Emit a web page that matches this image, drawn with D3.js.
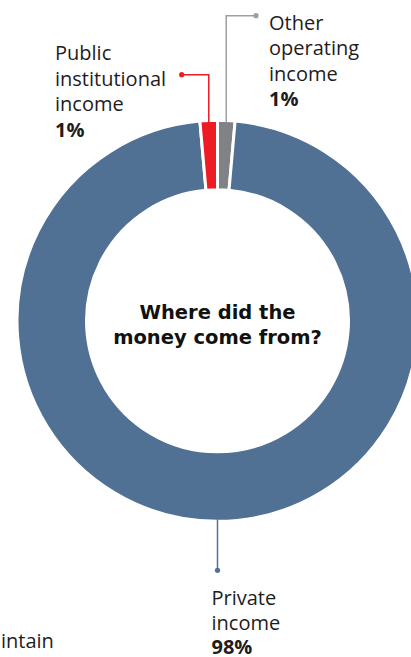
<!DOCTYPE html>
<html>
<head>
<meta charset="utf-8">
<script src="https://cdn.jsdelivr.net/npm/d3@7"></script>
<style>
  body { margin: 0; background: #fff; }
  svg { display: block; }
  .lbl { font-family: "Open Sans", sans-serif; font-size: 20px; fill: #1f1c1d; }
  .pct { font-weight: 700; }
  .title { font-family: "DejaVu Sans", sans-serif; font-weight: 700; font-size: 19.5px; fill: #111; }
</style>
</head>
<body>
<div id="chart"></div>
<script>
// slices in drawing order (clockwise from 12 o'clock)
var categories = ["Other operating income", "Private income", "Public institutional income"];
var shares = [1.4, 97.2, 1.4];          // arc sizes as drawn
var pctLabels = ["1%", "98%", "1%"];    // printed percentages
var labelLines = [["Other", "operating", "income"], ["Private", "income"], ["Public", "institutional", "income"]];
var colors = ["#808285", "#507094", "#ed1c24"];
var lineColors = ["#9d9fa2", "#507094", "#ed1c24"];
var titleLines = ["Where did the", "money come from?"];

var width = 411, height = 657;
var cx = 217.5, cy = 320.8;
var outerR = 200.5, innerR = 131;

var svg = d3.select("#chart").append("svg")
  .attr("width", width)
  .attr("height", height);

var g = svg.append("g")
  .attr("transform", "translate(" + cx + "," + cy + ")");

var pie = d3.pie().sort(null).value(function(d) { return d.value; });
var arc = d3.arc().innerRadius(innerR).outerRadius(outerR);

var data = categories.map(function(c, i) {
  return {name: c, value: shares[i], color: colors[i], line: lineColors[i], pct: pctLabels[i], words: labelLines[i]};
});
var arcs = pie(data);

g.selectAll("path.slice")
  .data(arcs)
  .enter()
  .append("path")
  .attr("class", "slice")
  .attr("d", arc)
  .attr("fill", function(d) { return d.data.color; })
  .attr("stroke", "#fff")
  .attr("stroke-width", 3);

// leader lines and labels: elbow y, dot x, text x, first baseline, line step
var anno = [
  {elbowY: 15.7 - cy, dotX: 256 - cx, textX: 269 - cx, textY: 29.5 - cy, step: 25.6},
  {elbowY: 570.3 - cy, dotX: null, textX: 211.5 - cx, textY: 605.2 - cy, step: 24.5},
  {elbowY: 74.7 - cy, dotX: 181.7 - cx, textX: 55 - cx, textY: 60 - cy, step: 25.6}
];

arcs.forEach(function(a, i) {
  var mid = (a.startAngle + a.endAngle) / 2;
  var x0 = Math.sin(mid) * (outerR - 2), y0 = -Math.cos(mid) * (outerR - 2);
  var o = anno[i];
  var pts = [[x0, y0], [x0, o.elbowY]];
  if (o.dotX !== null) pts.push([o.dotX, o.elbowY]);
  g.append("path")
    .attr("d", d3.line()(pts))
    .attr("fill", "none")
    .attr("stroke", a.data.line)
    .attr("stroke-width", 1.5);
  var end = pts[pts.length - 1];
  g.append("circle")
    .attr("cx", end[0])
    .attr("cy", end[1])
    .attr("r", 2.6)
    .attr("fill", a.data.line);

  var t = g.append("text").attr("class", "lbl")
    .attr("x", o.textX).attr("y", o.textY);
  a.data.words.forEach(function(w, j) {
    t.append("tspan").attr("x", o.textX).attr("y", o.textY + j * o.step).text(w);
  });
  t.append("tspan").attr("class", "pct")
    .attr("x", o.textX).attr("y", o.textY + a.data.words.length * o.step)
    .text(a.data.pct);
});

// centre title
var title = g.append("text").attr("class", "title").attr("text-anchor", "middle");
titleLines.forEach(function(l, i) {
  title.append("tspan").attr("x", 0).attr("y", 318.5 - cy + i * 25.7).text(l);
});

// cut-off text from the neighbouring panel
svg.append("text").attr("class", "lbl")
  .attr("x", 1).attr("y", 648)
  .text("intain");
</script>
</body>
</html>
